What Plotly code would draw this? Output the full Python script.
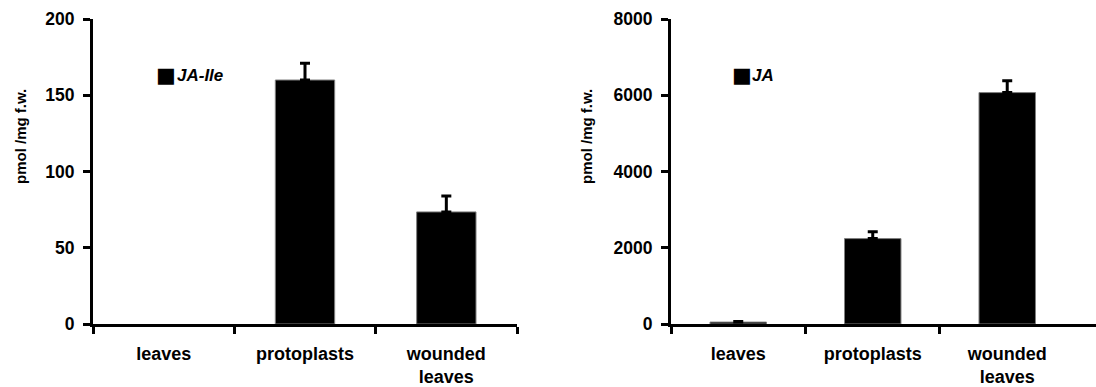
import plotly.graph_objects as go

categories = ["leaves", "protoplasts", "wounded<br>leaves"]
ja_ile_values = [None, 160, 73.5]   # leaves: not detected (no visible bar)
ja_ile_errors = [0, 11, 10.5]
ja_values = [50, 2240, 6070]
ja_errors = [15, 180, 310]
left_yticks = [0, 50, 100, 150, 200]
right_yticks = [0, 2000, 4000, 6000, 8000]
series_names = ["JA-Ile", "JA"]
y_title = "pmol /mg f.w."

FONT = "Liberation Sans, Arial, sans-serif"
xpos = list(range(len(categories)))

fig = go.Figure()
for i, (vals, errs, name) in enumerate([(ja_ile_values, ja_ile_errors, series_names[0]),
                                        (ja_values, ja_errors, series_names[1])]):
    fig.add_trace(go.Bar(
        x=xpos, y=vals, name=name, width=0.42,
        marker=dict(color="black", line=dict(color="#7f7f7f", width=1)),
        error_y=dict(type="data", array=errs, arrayminus=[0] * len(errs), symmetric=False,
                     color="black", thickness=3, width=5),
        xaxis="x" if i == 0 else "x2", yaxis="y" if i == 0 else "y2",
        showlegend=False,
    ))

W, H = 1096, 387
ydom = [63 / H, 368 / H]

def xaxis(domain, rng, minor_vals):
    return dict(
        domain=domain, range=rng, tickmode="array", tickvals=xpos, ticktext=categories,
        ticks="", showgrid=False, zeroline=False, showline=True, linecolor="black", linewidth=3,
        tickfont=dict(family=FONT, size=18, color="black", weight="bold"),
        ticklabelstandoff=11, automargin=False,
        minor=dict(tickmode="array", tickvals=minor_vals, ticks="outside", ticklen=7,
                   tickwidth=3, tickcolor="black", showgrid=False),
    )

def yaxis(rng, tvals, anchor):
    return dict(
        domain=ydom, range=rng, tickmode="array", tickvals=tvals, anchor=anchor,
        ticks="outside", ticklen=7, tickwidth=3, tickcolor="black",
        showgrid=False, zeroline=False, showline=True, linecolor="black", linewidth=3,
        tickfont=dict(family=FONT, size=17.5, color="black", weight="bold"),
        ticklabelstandoff=5, automargin=False,
    )

fig.update_layout(
    width=W, height=H, margin=dict(l=0, r=0, t=0, b=0, autoexpand=False),
    paper_bgcolor="white", plot_bgcolor="white",
    xaxis=xaxis([93 / W, 517 / W], [-0.5, 2.5], [-0.5, 0.5, 1.5, 2.5]),
    xaxis2=dict(**xaxis([671 / W, 1.0], [-0.5, 2.66], [-0.5, 0.5, 1.5]), anchor="y2"),
    yaxis=yaxis([0, 200], left_yticks, "x"),
    yaxis2=yaxis([0, 8000], right_yticks, "x2"),
    bargap=0.58,
)

# y-axis titles (placed above the vertical centre, as in the original)
for xc in [20 / W, 586 / W]:
    fig.add_annotation(xref="paper", yref="paper", x=xc, y=1 - 137 / H,
                       xanchor="center", yanchor="middle", textangle=-90,
                       text=y_title, showarrow=False,
                       font=dict(family=FONT, size=15, color="black", weight="bold"))

for xref, yref, name, xs, xt in [("x domain", "y domain", series_names[0], 0.143, 0.1925),
                                 ("x2 domain", "y2 domain", series_names[1], 0.1395, 0.1855)]:
    fig.add_annotation(xref=xref, yref=yref, x=xs, y=0.816, xanchor="left", yanchor="middle",
                       text="■", showarrow=False,
                       font=dict(family="DejaVu Sans", size=21, color="black"))
    fig.add_annotation(xref=xref, yref=yref, x=xt, y=0.816, xanchor="left", yanchor="middle",
                       text="<i>" + name + "</i>", showarrow=False,
                       font=dict(family=FONT, size=17, color="black", weight="bold"))

fig.write_html("out.html")
